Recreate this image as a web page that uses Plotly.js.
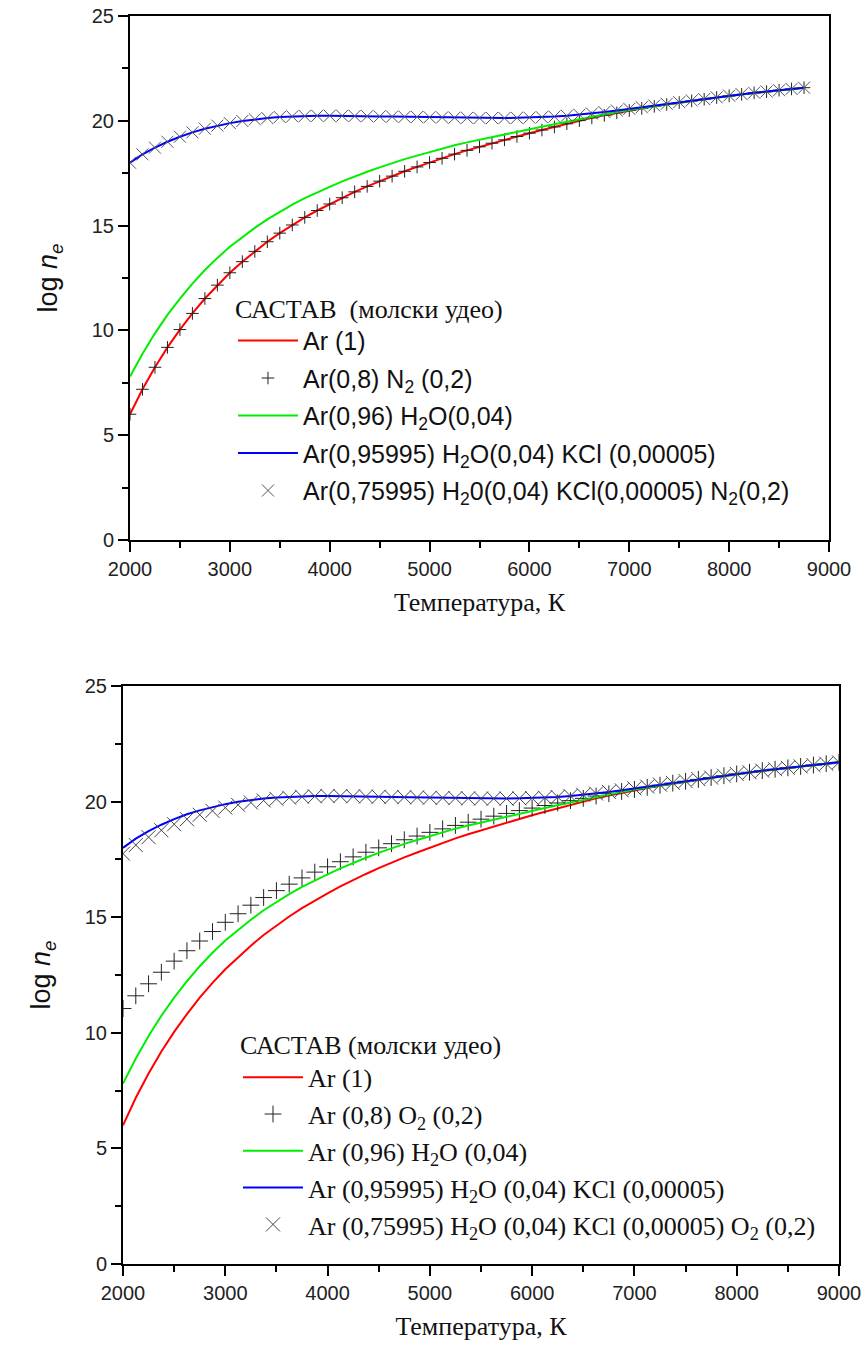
<!DOCTYPE html>
<html>
<head>
<meta charset="utf-8">
<script src="https://cdn.plot.ly/plotly-3.0.1.min.js"></script>
<style>
  html, body { margin: 0; padding: 0; background: #ffffff; }
  #chart { width: 866px; height: 1348px; }
</style>
</head>
<body>
<div id="chart"></div>
<script>
// ---------- DATA ----------
// Temperature grid (K)
const T_top = [2000,2125,2250,2375,2500,2625,2750,2875,3000,3125,3250,3375,3500,3625,3750,3875,4000,4125,4250,4375,4500,4625,4750,4875,5000,5125,5250,5375,5500,5625,5750,5875,6000,6125,6250,6375,6500,6625,6750,6875,7000,7125,7250,7375,7500,7625,7750,7875,8000,8125,8250,8375,8500,8625,8750];
const T_bot = [2000,2125,2250,2375,2500,2625,2750,2875,3000,3125,3250,3375,3500,3625,3750,3875,4000,4125,4250,4375,4500,4625,4750,4875,5000,5125,5250,5375,5500,5625,5750,5875,6000,6125,6250,6375,6500,6625,6750,6875,7000,7125,7250,7375,7500,7625,7750,7875,8000,8125,8250,8375,8500,8625,8750,8875,9000];

// Top chart series (log n_e)
const ar_top = [6.00,7.19,8.24,9.19,10.04,10.81,11.52,12.16,12.75,13.28,13.77,14.23,14.64,15.03,15.39,15.72,16.03,16.33,16.61,16.87,17.12,17.36,17.59,17.80,18.01,18.21,18.41,18.59,18.76,18.93,19.09,19.25,19.41,19.56,19.71,19.86,20.01,20.14,20.26,20.38,20.49,20.59,20.69,20.78,20.87,20.95,21.03,21.11,21.19,21.26,21.33,21.39,21.46,21.52,21.58];
const arN2_top = [6.00,7.19,8.24,9.19,10.04,10.81,11.52,12.16,12.75,13.28,13.77,14.23,14.64,15.03,15.39,15.72,16.03,16.33,16.61,16.87,17.12,17.36,17.59,17.80,18.01,18.21,18.41,18.59,18.76,18.93,19.09,19.25,19.41,19.56,19.71,19.86,20.01,20.14,20.26,20.38,20.49,20.59,20.69,20.78,20.87,20.95,21.03,21.11,21.19,21.26,21.33,21.39,21.46,21.52,21.58];
const arH2O_top = [7.80,8.89,9.86,10.74,11.52,12.23,12.88,13.46,13.99,14.46,14.89,15.30,15.66,16.00,16.31,16.59,16.85,17.11,17.35,17.57,17.78,17.98,18.17,18.34,18.51,18.67,18.83,18.97,19.10,19.23,19.35,19.47,19.60,19.72,19.84,19.96,20.09,20.20,20.31,20.42,20.52,20.61,20.70,20.79,20.88,20.96,21.03,21.11,21.19,21.26,21.33,21.39,21.46,21.52,21.58];
const arH2OKCl_top = [18.00,18.40,18.72,19.00,19.24,19.45,19.62,19.77,19.89,19.99,20.07,20.13,20.18,20.21,20.23,20.24,20.24,20.24,20.23,20.22,20.21,20.20,20.19,20.18,20.17,20.16,20.15,20.14,20.13,20.13,20.13,20.14,20.15,20.17,20.20,20.24,20.29,20.35,20.42,20.49,20.57,20.65,20.73,20.81,20.89,20.97,21.04,21.12,21.20,21.27,21.34,21.40,21.46,21.52,21.58];
const arH2OKClN2_top = [18.00,18.40,18.72,19.00,19.24,19.45,19.62,19.77,19.89,19.99,20.07,20.13,20.18,20.21,20.23,20.24,20.24,20.24,20.23,20.22,20.21,20.20,20.19,20.18,20.17,20.16,20.15,20.14,20.13,20.13,20.13,20.14,20.15,20.17,20.20,20.24,20.29,20.35,20.42,20.49,20.57,20.65,20.73,20.81,20.89,20.97,21.04,21.12,21.20,21.27,21.34,21.40,21.46,21.52,21.58];

// Bottom chart series (log n_e)
const ar_bot = [6.00,7.19,8.24,9.19,10.04,10.81,11.52,12.16,12.75,13.28,13.77,14.23,14.64,15.03,15.39,15.72,16.03,16.33,16.61,16.87,17.12,17.36,17.59,17.80,18.01,18.21,18.41,18.59,18.76,18.93,19.09,19.25,19.41,19.56,19.71,19.86,20.01,20.14,20.26,20.38,20.49,20.59,20.69,20.78,20.87,20.95,21.03,21.11,21.19,21.26,21.33,21.39,21.46,21.52,21.58,21.64,21.70];
const arO2_bot = [11.05,11.60,12.12,12.62,13.10,13.55,13.97,14.38,14.78,15.15,15.52,15.85,16.15,16.43,16.70,16.95,17.18,17.40,17.61,17.81,18.00,18.18,18.35,18.51,18.67,18.82,18.97,19.11,19.24,19.37,19.49,19.61,19.72,19.83,19.94,20.04,20.14,20.24,20.34,20.44,20.53,20.62,20.71,20.80,20.88,20.96,21.04,21.12,21.20,21.27,21.34,21.40,21.46,21.52,21.58,21.64,21.70];
const arH2O_bot = [7.80,8.89,9.86,10.74,11.52,12.23,12.88,13.46,13.99,14.46,14.89,15.30,15.66,16.00,16.31,16.59,16.85,17.11,17.35,17.57,17.78,17.98,18.17,18.34,18.51,18.67,18.83,18.97,19.10,19.23,19.35,19.47,19.60,19.72,19.84,19.96,20.09,20.20,20.31,20.42,20.52,20.61,20.70,20.79,20.88,20.96,21.03,21.11,21.19,21.26,21.33,21.39,21.46,21.52,21.58,21.64,21.70];
const arH2OKCl_bot = [18.00,18.40,18.72,19.00,19.24,19.45,19.62,19.77,19.89,19.99,20.07,20.13,20.18,20.21,20.23,20.24,20.24,20.24,20.23,20.22,20.21,20.20,20.19,20.18,20.17,20.16,20.15,20.14,20.13,20.13,20.13,20.14,20.15,20.17,20.20,20.24,20.29,20.35,20.42,20.49,20.57,20.65,20.73,20.81,20.89,20.97,21.04,21.12,21.20,21.27,21.34,21.40,21.46,21.52,21.58,21.64,21.70];
const arH2OKClO2_bot = [17.75,18.12,18.46,18.76,19.02,19.24,19.43,19.60,19.74,19.86,19.96,20.05,20.12,20.17,20.21,20.23,20.24,20.24,20.23,20.22,20.21,20.20,20.19,20.18,20.17,20.16,20.15,20.14,20.13,20.13,20.13,20.14,20.15,20.17,20.20,20.24,20.29,20.35,20.42,20.49,20.57,20.65,20.73,20.81,20.89,20.97,21.04,21.12,21.20,21.27,21.34,21.40,21.46,21.52,21.58,21.64,21.70];

// Legend labels
const names_top = [
  'Ar (1)',
  'Ar(0,8) N<sub>2</sub> (0,2)',
  'Ar(0,96) H<sub>2</sub>O(0,04)',
  'Ar(0,95995) H<sub>2</sub>O(0,04) KCl (0,00005)',
  'Ar(0,75995) H<sub>2</sub>0(0,04) KCl(0,00005) N<sub>2</sub>(0,2)'
];
const names_bot = [
  'Ar (1)',
  'Ar (0,8) O<sub>2</sub> (0,2)',
  'Ar (0,96) H<sub>2</sub>O (0,04)',
  'Ar (0,95995) H<sub>2</sub>O (0,04) KCl (0,00005)',
  'Ar (0,75995) H<sub>2</sub>O (0,04) KCl (0,00005) O<sub>2</sub> (0,2)'
];
const legendTitle_top = 'САСТАВ  (молски удео)';
const legendTitle_bot = 'САСТАВ (молски удео)';
const xTitle = 'Температура, К';
const yTitle = 'log <i>n</i><sub><i>e</i></sub>';

// ---------- STYLE ----------
const SANS = '"Liberation Sans", Arial, sans-serif';
const SERIF = '"Liberation Serif", "Times New Roman", serif';

function lineTrace(x, y, name, color, xa, ya, leg, grp) {
  return { x, y, name, type: 'scatter', mode: 'lines',
    line: { color, width: 2 }, xaxis: xa, yaxis: ya, legend: leg, legendgroup: grp };
}
function markerTrace(x, y, name, symbol, size, color, xa, ya, leg, grp) {
  return { x, y, name, type: 'scatter', mode: 'markers',
    marker: { symbol, size, color, line: { color, width: 1 } },
    xaxis: xa, yaxis: ya, legend: leg, legendgroup: grp };
}

const data = [
  lineTrace(T_top, ar_top, names_top[0], '#ff0000', 'x', 'y', 'legend', 't1'),
  markerTrace(T_top, arN2_top, names_top[1], 'cross-thin-open', 9, '#222222', 'x', 'y', 'legend', 't2'),
  lineTrace(T_top, arH2O_top, names_top[2], '#00ee00', 'x', 'y', 'legend', 't3'),
  lineTrace(T_top, arH2OKCl_top, names_top[3], '#0000ff', 'x', 'y', 'legend', 't4'),
  markerTrace(T_top, arH2OKClN2_top, names_top[4], 'x-thin-open', 12, '#555555', 'x', 'y', 'legend', 't5'),

  lineTrace(T_bot, ar_bot, names_bot[0], '#ff0000', 'x2', 'y2', 'legend2', 'b1'),
  markerTrace(T_bot, arO2_bot, names_bot[1], 'cross-thin-open', 12, '#222222', 'x2', 'y2', 'legend2', 'b2'),
  lineTrace(T_bot, arH2O_bot, names_bot[2], '#00ee00', 'x2', 'y2', 'legend2', 'b3'),
  lineTrace(T_bot, arH2OKCl_bot, names_bot[3], '#0000ff', 'x2', 'y2', 'legend2', 'b4'),
  markerTrace(T_bot, arH2OKClO2_bot, names_bot[4], 'x-thin-open', 14, '#444444', 'x2', 'y2', 'legend2', 'b5')
];

function xAxis(domain, anchor) {
  return {
    domain, anchor, range: [2000, 9000], dtick: 1000, tick0: 2000,
    ticks: 'outside', ticklen: 10, tickwidth: 2, tickcolor: '#000',
    minor: { dtick: 500, ticks: 'outside', ticklen: 6, tickwidth: 2, tickcolor: '#000' },
    showline: true, linewidth: 2, linecolor: '#000', mirror: true,
    showgrid: false, zeroline: false,
    tickfont: { family: SANS, size: 20, color: '#222' },
    title: { text: xTitle, font: { family: SERIF, size: 26, color: '#111' }, standoff: 14 }
  };
}
function yAxis(domain, anchor) {
  return {
    domain, anchor, range: [0, 25], dtick: 5, tick0: 0,
    ticks: 'outside', ticklen: 10, tickwidth: 2, tickcolor: '#000',
    minor: { dtick: 2.5, ticks: 'outside', ticklen: 6, tickwidth: 2, tickcolor: '#000' },
    showline: true, linewidth: 2, linecolor: '#000', mirror: true,
    showgrid: false, zeroline: false,
    tickfont: { family: SANS, size: 20, color: '#222' },
    title: { text: yTitle, font: { family: SANS, size: 27, color: '#111' }, standoff: 26 }
  };
}

const layout = {
  width: 866, height: 1348,
  margin: { l: 123, r: 27, t: 16, b: 84 },
  paper_bgcolor: '#ffffff', plot_bgcolor: '#ffffff',
  showlegend: true,
  xaxis: xAxis([0.00978, 0.98603], 'y'),
  yaxis: yAxis([0.58013, 1.0], 'x'),
  xaxis2: xAxis([0.0, 1.0], 'y2'),
  yaxis2: yAxis([0.0, 0.46314], 'x2'),
  legend: {
    x: 0.1536, y: 0.7853, xanchor: 'left', yanchor: 'top',
    bgcolor: 'rgba(0,0,0,0)', borderwidth: 0,
    itemwidth: 60, traceorder: 'grouped', tracegroupgap: 2,
    font: { family: SANS, size: 25, color: '#111' },
    title: { text: legendTitle_top, font: { family: SERIF, size: 26, color: '#111' } }
  },
  legend2: {
    x: 0.1606, y: 0.1955, xanchor: 'left', yanchor: 'top',
    bgcolor: 'rgba(0,0,0,0)', borderwidth: 0,
    itemwidth: 60, traceorder: 'grouped', tracegroupgap: 0,
    font: { family: SERIF, size: 26, color: '#111' },
    title: { text: legendTitle_bot, font: { family: SERIF, size: 26, color: '#111' } }
  }
};

Plotly.newPlot('chart', data, layout, { staticPlot: true, displayModeBar: false });
</script>
</body>
</html>
